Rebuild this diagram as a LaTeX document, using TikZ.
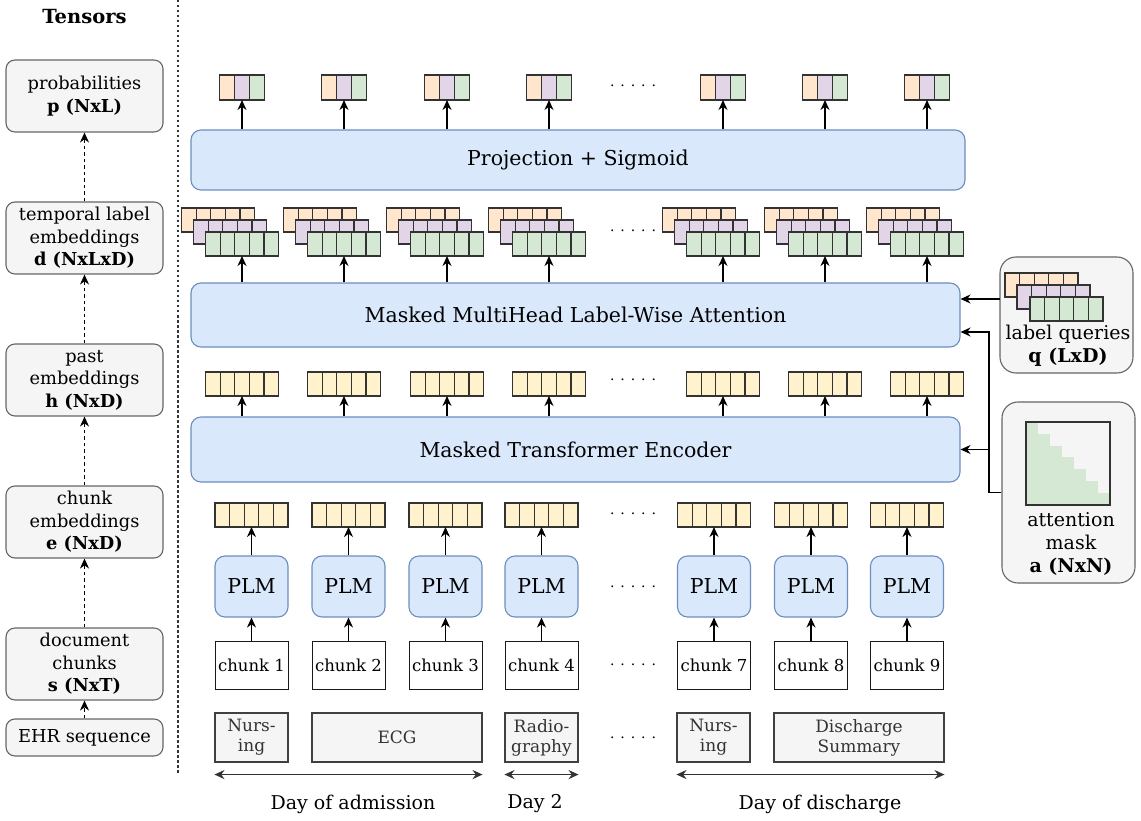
\documentclass[tikz,border=0pt]{standalone}
\usepackage{fontspec}
\setmainfont{DejaVu Serif}
\usepackage{xcolor}
\usetikzlibrary{shapes,arrows.meta,positioning,calc}

\definecolor{bluefill}{HTML}{DAE8FC}
\definecolor{bluedraw}{HTML}{6C8EBF}
\definecolor{grayfill}{HTML}{F5F5F5}
\definecolor{graydraw}{HTML}{666666}
\definecolor{orangefill}{HTML}{FFE6CC}
\definecolor{purplefill}{HTML}{E1D5E7}
\definecolor{greenfill}{HTML}{D5E8D4}
\definecolor{yellowfill}{HTML}{FFF2CC}

% one embedding vector of five cells: name, x, y, colour
\newcommand{\vecrow}[4]{%
    \node[vcell, fill=#4] (#1-3) at (#2,#3) {};
    \node[vcell, fill=#4, left=0pt of #1-3] (#1-2) {};
    \node[vcell, fill=#4, left=0pt of #1-2] (#1-1) {};
    \node[vcell, fill=#4, right=0pt of #1-3] (#1-4) {};
    \node[vcell, fill=#4, right=0pt of #1-4] (#1-5) {};}

\begin{document}
\begin{tikzpicture}[x=1pt, y=-1pt,
        tensor/.style={rectangle, draw=graydraw, fill=grayfill, rounded corners=9pt, line width=1.1pt, minimum width=157pt, minimum height=72pt, align=center, inner sep=2pt, font=\fontsize{17.8}{22.5}\selectfont},
        layer/.style={rectangle, draw=bluedraw, fill=bluefill, rounded corners=10pt, line width=1.1pt, font=\fontsize{20.5}{24}\selectfont},
        plm/.style={layer, minimum width=73pt, minimum height=61pt, inner sep=0pt},
        chunk/.style={rectangle, draw=black!90, fill=white, line width=1pt, minimum width=73pt, minimum height=48pt, inner sep=0pt, font=\fontsize{16.5}{20}\selectfont},
        doc/.style={rectangle, draw=black!75, fill=grayfill, line width=1.1pt, minimum height=49pt, align=center, inner sep=0pt, text=black!80, font=\fontsize{17}{20}\selectfont},
        cell/.style={rectangle, draw=black!80, line width=1.2pt, minimum width=15pt, minimum height=25pt, inner sep=0pt, outer sep=0pt},
        vcell/.style={cell, minimum width=14.6pt, minimum height=24pt},
        dots/.style={inner sep=0pt, font=\fontsize{14}{16}\selectfont},
        label/.style={align=center, inner sep=0pt, font=\fontsize{19}{23}\selectfont},
        arrow/.style={-{Stealth[length=10pt,width=9pt]}, line width=1.3pt},
        dasharrow/.style={arrow, dash pattern=on 3.5pt off 3pt},
        dblarrow/.style={{Stealth[length=10pt,width=9pt]}-{Stealth[length=10pt,width=9pt]}, line width=1.5pt, draw=black!80}
    ]
        \useasboundingbox (0,0) rectangle (1141,821);

        % tensors column
        \node[font=\bfseries\fontsize{19.5}{22}\selectfont] (title) at (84.5,17) {Tensors};
        \node[tensor] (prob) at (84.5,96) {probabilities\\\textbf{p (NxL)}};
        \node[tensor] (tle) at (84.5,238) {temporal label\\embeddings\\\textbf{d (NxLxD)}};
        \node[tensor] (past) at (84.5,380) {past\\embeddings\\\textbf{h (NxD)}};
        \node[tensor] (cemb) at (84.5,522) {chunk\\embeddings\\\textbf{e (NxD)}};
        \node[tensor] (dchunk) at (84.5,664) {document\\chunks\\\textbf{s (NxT)}};
        \node[tensor, minimum height=37pt] (ehr) at (84.5,737.5) {EHR sequence};
        \draw[dasharrow] (ehr) -- (dchunk);
        \draw[dasharrow] (dchunk) -- (cemb);
        \draw[dasharrow] (cemb) -- (past);
        \draw[dasharrow] (past) -- (tle);
        \draw[dasharrow] (tle) -- (prob);

        \coordinate (septop) at (178,0);
        \coordinate (sepbot) at (178,773);
        \draw[line width=1.1pt, black!80, dash pattern=on 2.5pt off 2.5pt] (septop) -- (sepbot);

        % model layers
        \node[layer, minimum width=774pt, minimum height=60pt] (proj) at (578,160) {Projection + Sigmoid};
        \node[layer, minimum width=769pt, minimum height=64pt] (mha) at (575.5,315) {Masked MultiHead Label-Wise Attention};
        \node[layer, minimum width=769pt, minimum height=65pt] (enc) at (575.5,449.5) {Masked Transformer Encoder};

        % upper columns
        \foreach \i/\x in {1/242, 2/344, 3/447, 4/549, 5/723, 6/825, 7/927} {
            \node[cell, fill=purplefill] (pb\i) at (\x,87.5) {};
            \node[cell, fill=orangefill, left=0pt of pb\i] (pa\i) {};
            \node[cell, fill=greenfill, right=0pt of pb\i] (pc\i) {};
            \draw[arrow] (pb\i.south |- proj.north) -- (pb\i.south);
            \vecrow{do\i}{\x-24}{220}{orangefill}
            \vecrow{dp\i}{\x-12}{232}{purplefill}
            \vecrow{dg\i}{\x}{244}{greenfill}
            \draw[arrow] (dg\i-3.south |- mha.north) -- (dg\i-3.south);
            \vecrow{h\i}{\x}{384}{yellowfill}
            \draw[arrow] (h\i-3.south |- enc.north) -- (h\i-3.south);
        }

        % lower columns
        \foreach \i/\x/\c in {1/251.5/1, 2/348.5/2, 3/445.5/3, 4/541.5/4, 5/714/7, 6/811/8, 7/907/9} {
            \vecrow{e\i}{\x}{515}{yellowfill}
            \node[plm] (plm\i) at (\x,586.5) {PLM};
            \node[chunk] (c\i) at (\x,665) {chunk \c};
            \draw[arrow] (c\i) -- (plm\i);
            \draw[arrow] (plm\i) -- (e\i-3);
        }

        \foreach \n/\y in {p/86, d/231, h/380, e/514, m/587, c/665, s/738}
            \node[dots] (dots\n) at (633,\y) {. . . . .};

        % documents
        \node[doc, minimum width=73pt] (nurs1) at (251.5,737.5) {Nurs-\\ing};
        \node[doc, minimum width=170pt] (ecg) at (397,737.5) {ECG};
        \node[doc, minimum width=73pt] (radio) at (541.5,737.5) {Radio-\\graphy};
        \node[doc, minimum width=73pt] (nurs2) at (713.5,737.5) {Nurs-\\ing};
        \node[doc, minimum width=170pt] (summ) at (859,737.5) {Discharge\\Summary};
        \draw[dblarrow] ($(nurs1.south west)+(0,12)$) -- ($(ecg.south east)+(0,12)$);
        \draw[dblarrow] ($(radio.south west)+(0,12)$) -- ($(radio.south east)+(0,12)$);
        \draw[dblarrow] ($(nurs2.south west)+(0,12)$) -- ($(summ.south east)+(0,12)$);
        \node[label] (day1) at (353,804) {Day of admission};
        \node[label] (day2) at (535,804) {Day 2};
        \node[label] (day3) at (820,804) {Day of discharge};

        % label queries
        \node[tensor, minimum width=133pt, minimum height=116pt, rounded corners=16pt] (lq) at (1066.5,315) {};
        \vecrow{qo}{1041.5}{285}{orangefill}
        \vecrow{qp}{1053.5}{297}{purplefill}
        \vecrow{qg}{1066.5}{309}{greenfill}
        \node[label] (lqtext) at (1068,346) {label queries\\\textbf{q (LxD)}};

        % attention mask
        \node[tensor, minimum width=133pt, minimum height=181pt, rounded corners=16pt] (am) at (1068.5,492.5) {};
        \node[rectangle, draw=black!80, line width=1.1pt, minimum width=84pt, minimum height=83pt, inner sep=0pt,
            path picture={\foreach \k in {0,...,6}
                \fill[greenfill] ($(path picture bounding box.south west)+(\k*12,0)$) rectangle ($(path picture bounding box.south west)+({\k*12+12},{-(83-\k*11.8)})$);}] (mask) at (1068,463.5) {};
        \node[label] (amtext) at (1071,544) {attention\\mask\\\textbf{a (NxN)}};

        \coordinate (qin) at (1000,299);
        \coordinate (maskin) at (989,332);
        \draw[arrow] (qin) -- (qin -| mha.east);
        \draw[arrow] (am.west) -| (maskin) -- (maskin -| mha.east);
        \draw[arrow] (maskin |- enc.east) -- (enc.east);
    \end{tikzpicture}
\end{document}
